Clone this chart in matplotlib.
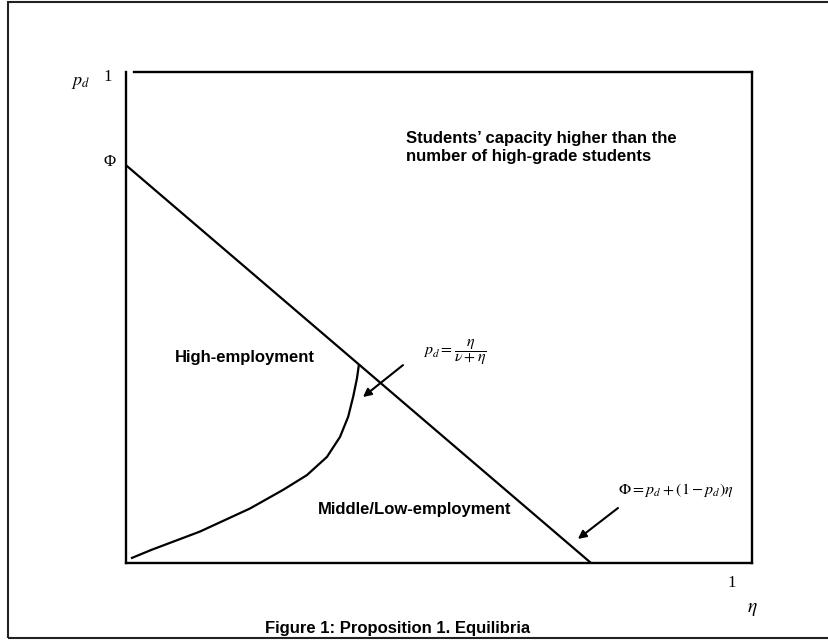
import matplotlib
matplotlib.use("Agg")
import matplotlib.pyplot as plt
from matplotlib.patches import Rectangle

plt.rcParams['mathtext.fontset'] = 'stix'

# values (eta on x, p_d on y, both 0..1)
phi = 0.81
eta_cut = 0.743
diag_eta = [0.0, eta_cut]
diag_pd = [phi, 0.0]

curve_eta = [0.0096, 0.041, 0.118, 0.198, 0.251, 0.289, 0.321, 0.342, 0.355, 0.363, 0.369, 0.372]
curve_pd = [0.0105, 0.027, 0.064, 0.111, 0.149, 0.179, 0.216, 0.257, 0.298, 0.339, 0.376, 0.403]

region_labels = ["Students\u2019 capacity higher than the\nnumber of high-grade students",
                 "High-employment", "Middle/Low-employment"]
caption = "Figure 1: Proposition 1. Equilibria"

fig = plt.figure(figsize=(8.29, 6.42), dpi=100)
ax = fig.add_axes([0.152, 0.123, 0.755, 0.765])
ax.set_xlim(0, 1)
ax.set_ylim(0, 1)
ax.set_xticks([])
ax.set_yticks([])
for s in ax.spines.values():
    s.set_linewidth(1.7)
ax.spines['top'].set_bounds(0.013, 1)

ax.plot(diag_eta, diag_pd, color='black', lw=1.6)
ax.plot(curve_eta, curve_pd, color='black', lw=1.6, solid_joinstyle='round')

sans = dict(family='Liberation Sans', weight='bold', fontsize=12)
ax.text(0.447, 0.879, region_labels[0], va='top', ha='left', linespacing=1.25, **sans)
ax.text(0.078, 0.418, region_labels[1], va='center', ha='left', **sans)
ax.text(0.307, 0.108, region_labels[2], va='center', ha='left', **sans)

serif = dict(family='Liberation Serif', fontsize=12)
ax.text(-0.073, 0.98, r'$p_d$', ha='center', va='center', clip_on=False, fontsize=13)
ax.text(-0.029, 0.99, '1', ha='center', va='center', clip_on=False, **serif)
ax.text(-0.026, 0.817, '\u03a6', ha='center', va='center', clip_on=False, **serif)
ax.text(0.968, -0.041, '1', ha='center', va='center', clip_on=False, **serif)
ax.text(1.0, -0.092, r'$\eta$', ha='center', va='center', clip_on=False, fontsize=14)

ax.text(0.474, 0.430, r'$p_d = \dfrac{\eta}{\nu + \eta}$', ha='left', va='center', fontsize=11.5)
ax.text(0.786, 0.149, r'$\Phi = p_d + \left(1 - p_d\right)\eta$', ha='left', va='center', fontsize=11.5)

arrow = dict(arrowstyle='-|>', color='black', lw=1.5, mutation_scale=12, shrinkA=0, shrinkB=0)
ax.annotate('', xy=(0.3786, 0.338), xytext=(0.4425, 0.403), arrowprops=arrow)
ax.annotate('', xy=(0.722, 0.049), xytext=(0.786, 0.112), arrowprops=arrow)

fig.text(0.480, 0.021, caption, ha='center', va='center', **sans)

fig.patches.append(Rectangle((0.0097, 0.007), 1.2, 0.99, transform=fig.transFigure,
                             fill=False, lw=1.5, edgecolor='#222222', clip_on=False))

fig.savefig('out.png', dpi=100)
